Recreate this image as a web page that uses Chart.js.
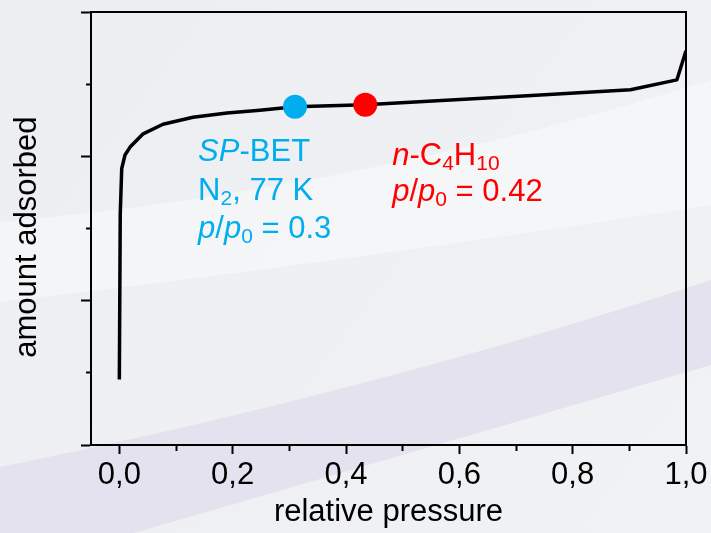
<!DOCTYPE html>
<html><head><meta charset="utf-8">
<script src="https://cdn.jsdelivr.net/npm/chart.js@4.4.1/dist/chart.umd.min.js"></script>
<style>html,body{margin:0;padding:0;background:#eef0f2;overflow:hidden}</style>
</head><body>
<canvas id="c" width="711" height="533"></canvas>
<script>
// ---- data ----
const PRESSURE = [0, 0.0016, 0.0042, 0.010, 0.019, 0.042, 0.077, 0.130, 0.190, 0.248, 0.310, 0.434, 0.720, 0.902, 0.984, 1.0];
const AMOUNT   = [0.454, 1.596, 1.915, 2.009, 2.064, 2.156, 2.222, 2.271, 2.300, 2.319, 2.343, 2.357, 2.420, 2.461, 2.530, 2.732];
const BET_X = [0.31];
const BET_Y = [2.343];
const BUTANE_X = [0.434];
const BUTANE_Y = [2.357];
const X_TICKS = [0, 0.1, 0.2, 0.3, 0.4, 0.5, 0.6, 0.7, 0.8, 0.9, 1.0];
const X_TICK_LABELS = ['0,0', '', '0,2', '', '0,4', '', '0,6', '', '0,8', '', '1,0'];
const Y_TICKS = [0, 0.5, 1, 1.5, 2, 2.5, 3];

const FAMILY = "'Liberation Sans', Arial, sans-serif";
const CYAN = '#00aeef', RED = '#ff0000';

const bgPlugin = {
  id: 'bg',
  beforeDraw(chart) {
    const c = chart.ctx, W = chart.width, H = chart.height;
    c.save();
    const g = c.createLinearGradient(0, 0, W, H);
    g.addColorStop(0, '#eceef1');
    g.addColorStop(1, '#f0f2f4');
    c.fillStyle = g; c.fillRect(0, 0, W, H);
    // light swoosh
    c.beginPath();
    c.moveTo(0, 222);
    c.quadraticCurveTo(360, 190, 711, 80);
    c.lineTo(711, 205);
    c.quadraticCurveTo(360, 260, 0, 302);
    c.closePath();
    c.fillStyle = 'rgba(255,255,255,0.4)'; c.fill();
    // lavender swoosh
    c.beginPath();
    c.moveTo(0, 467);
    c.quadraticCurveTo(380, 390, 711, 280);
    c.lineTo(711, 365);
    c.quadraticCurveTo(420, 450, 110, 540);
    c.lineTo(0, 540);
    c.closePath();
    c.fillStyle = '#e4e2ef'; c.fill();
    c.restore();
  }
};

const framePlugin = {
  id: 'frame',
  afterDraw(chart) {
    const a = chart.chartArea, c = chart.ctx;
    c.save();
    c.strokeStyle = '#000'; c.lineWidth = 2;
    c.beginPath();
    c.moveTo(a.left - 1, a.top); c.lineTo(a.right, a.top);
    c.lineTo(a.right, a.bottom);
    c.stroke();
    c.restore();
  }
};

function drawRuns(c, x, y, runs, color) {
  c.fillStyle = color;
  c.textBaseline = 'alphabetic';
  c.textAlign = 'left';
  for (const r of runs) {
    const size = r.sub ? 21 : 31;
    c.font = (r.i ? 'italic ' : '') + size + 'px ' + FAMILY;
    c.fillText(r.t, x, y + (r.sub ? 5 : 0));
    x += c.measureText(r.t).width;
  }
}

const annotPlugin = {
  id: 'annot',
  afterDatasetsDraw(chart) {
    const c = chart.ctx, xs = chart.scales.x, ys = chart.scales.y;
    c.save();
    let bx = xs.getPixelForValue(0.139), by = ys.getPixelForValue(1.968);
    drawRuns(c, bx, by, [{t: 'SP', i: true}, {t: '-BET'}], CYAN);
    drawRuns(c, bx, by + 39, [{t: 'N'}, {t: '2', sub: true}, {t: ', 77 K'}], CYAN);
    drawRuns(c, bx, by + 77, [{t: 'p', i: true}, {t: '/'}, {t: 'p', i: true}, {t: '0', sub: true}, {t: ' = 0.3'}], CYAN);
    let rx = xs.getPixelForValue(0.4815), ry = ys.getPixelForValue(1.940);
    drawRuns(c, rx, ry, [{t: 'n', i: true}, {t: '-C'}, {t: '4', sub: true}, {t: 'H'}, {t: '10', sub: true}], RED);
    drawRuns(c, rx, ry + 36, [{t: 'p', i: true}, {t: '/'}, {t: 'p', i: true}, {t: '0', sub: true}, {t: ' = 0.42'}], RED);
    c.restore();
  }
};

const curve = PRESSURE.map((p, i) => ({x: p, y: AMOUNT[i]}));
const bet = BET_X.map((p, i) => ({x: p, y: BET_Y[i]}));
const but = BUTANE_X.map((p, i) => ({x: p, y: BUTANE_Y[i]}));

new Chart(document.getElementById('c'), {
  type: 'scatter',
  data: {
    datasets: [
      {label: 'SP-BET', data: bet, pointRadius: 12, pointHoverRadius: 12, backgroundColor: CYAN, borderWidth: 0, order: 0},
      {label: 'n-C4H10', data: but, pointRadius: 12, pointHoverRadius: 12, backgroundColor: RED, borderWidth: 0, order: 0},
      {label: 'isotherm', data: curve, showLine: true, borderColor: '#000', borderWidth: 3.5, pointRadius: 0, tension: 0, order: 1, borderJoinStyle: 'round'}
    ]
  },
  options: {
    responsive: false, animation: false, devicePixelRatio: 1,
    layout: {padding: {top: 9, right: 25, left: 0, bottom: 0}},
    plugins: {legend: {display: false}, tooltip: {enabled: false}},
    scales: {
      x: {
        type: 'linear', min: -0.05, max: 1.0,
        afterBuildTicks: s => { s.ticks = X_TICKS.map(v => ({value: v})); },
        afterFit: s => { s.height = 88; },
        ticks: {autoSkip: false, maxRotation: 0, padding: 3, color: '#000', font: {family: FAMILY, size: 31},
                callback: (v, i) => X_TICK_LABELS[i]},
        grid: {drawOnChartArea: false, tickLength: 9, tickWidth: 2, tickColor: '#000',
               tickBorderDash: ctx => (ctx.tick && Math.round(ctx.tick.value * 10) % 2 === 1) ? [5, 40] : []},
        border: {color: '#000', width: 2},
        title: {display: true, text: 'relative pressure', color: '#000', font: {family: FAMILY, size: 31}, padding: {top: 0, bottom: 2}}
      },
      y: {
        type: 'linear', min: 0, max: 3,
        afterBuildTicks: s => { s.ticks = Y_TICKS.map(v => ({value: v})); },
        afterFit: s => { s.width = 91; },
        ticks: {display: false},
        grid: {drawOnChartArea: false, tickLength: 10, tickWidth: 2, tickColor: '#000',
               tickBorderDash: ctx => (ctx.tick && ctx.tick.value % 1 !== 0) ? [0, 5, 6, 40] : []},
        border: {color: '#000', width: 2},
        title: {display: true, text: 'amount adsorbed\u00a0\u00a0', color: '#000', font: {family: FAMILY, size: 31}, padding: {top: 9, bottom: 0}}
      }
    }
  },
  plugins: [bgPlugin, framePlugin, annotPlugin]
});
</script>
</body></html>
